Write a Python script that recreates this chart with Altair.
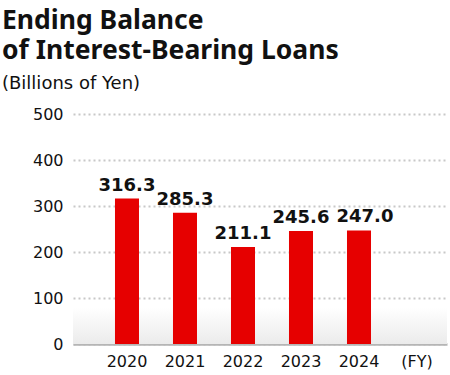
import altair as alt
import pandas as pd

years = ["2020", "2021", "2022", "2023", "2024"]
values = [316.3, 285.3, 211.1, 245.6, 247.0]
x_domain = years + ["(FY)"]
y_ticks = [0, 100, 200, 300, 400, 500]

df = pd.DataFrame({"year": years, "value": values})

FONT = "DejaVu Sans"
TFONT = "Noto Sans"
W, H = 374, 230

xscale = alt.Scale(domain=x_domain, paddingInner=0.586, paddingOuter=0.517, align=0.7)
yscale = alt.Scale(domain=[0, 500], nice=False)

base = alt.Chart(df)

grad = base.mark_rect(
    color=alt.Gradient(
        gradient="linear",
        stops=[alt.GradientStop(color="#ffffff", offset=0),
               alt.GradientStop(color="#ebebeb", offset=1)],
        x1=0, x2=0, y1=0, y2=1,
    )
).encode(
    x=alt.value(0), x2=alt.value(W),
    y=alt.datum(80, scale=yscale), y2=alt.datum(0),
)

bars = base.mark_bar(color="#e60000").encode(
    x=alt.X("year:N", scale=xscale, sort=x_domain,
            axis=alt.Axis(title=None, labelAngle=0, labelFontSize=16, labelFont=FONT,
                          labelColor="#111", labelPadding=9, ticks=False,
                          domainColor="#b5b5b5", domainWidth=2.5, grid=False)),
    y=alt.Y("value:Q", scale=yscale,
            axis=alt.Axis(title=None, values=y_ticks, labelFontSize=16, labelFont=FONT,
                          labelColor="#111", labelPadding=10, ticks=False, domain=False,
                          grid=True, gridColor="#c8c8c8", gridWidth=2, gridDash=[2, 3])),
)

label_enc = dict(
    x=alt.X("year:N", scale=xscale, sort=x_domain),
    y=alt.Y("value:Q", scale=yscale),
    text=alt.Text("value:Q", format=".1f"),
)
label_style = dict(baseline="bottom", dy=-4, fontSize=18, fontWeight="bold",
                   font=FONT, color="#111")

labels = base.mark_text(**label_style).encode(**label_enc).transform_filter(
    alt.datum.year != years[-1])
labels_last = base.mark_text(dx=6, **label_style).encode(**label_enc).transform_filter(
    alt.datum.year == years[-1])

chart = alt.layer(grad, bars, labels, labels_last).properties(
    width=W, height=H,
    autosize=alt.AutoSizeParams(type="none"),
    padding={"left": 73, "top": 114, "right": 3, "bottom": 31},
    title=alt.Title(
        text=["Ending Balance", "of Interest-Bearing Loans"],
        subtitle="(Billions of Yen)",
        anchor="start", frame="group", dx=-71, offset=13,
        font=TFONT, fontSize=26.5, fontWeight="bold", color="#111", lineHeight=30,
        subtitleFont=FONT, subtitleFontSize=18, subtitleColor="#111", subtitlePadding=11,
    ),
).configure_view(stroke=None)

chart.save("out.html", embed_options={"renderer": "svg", "actions": False})
